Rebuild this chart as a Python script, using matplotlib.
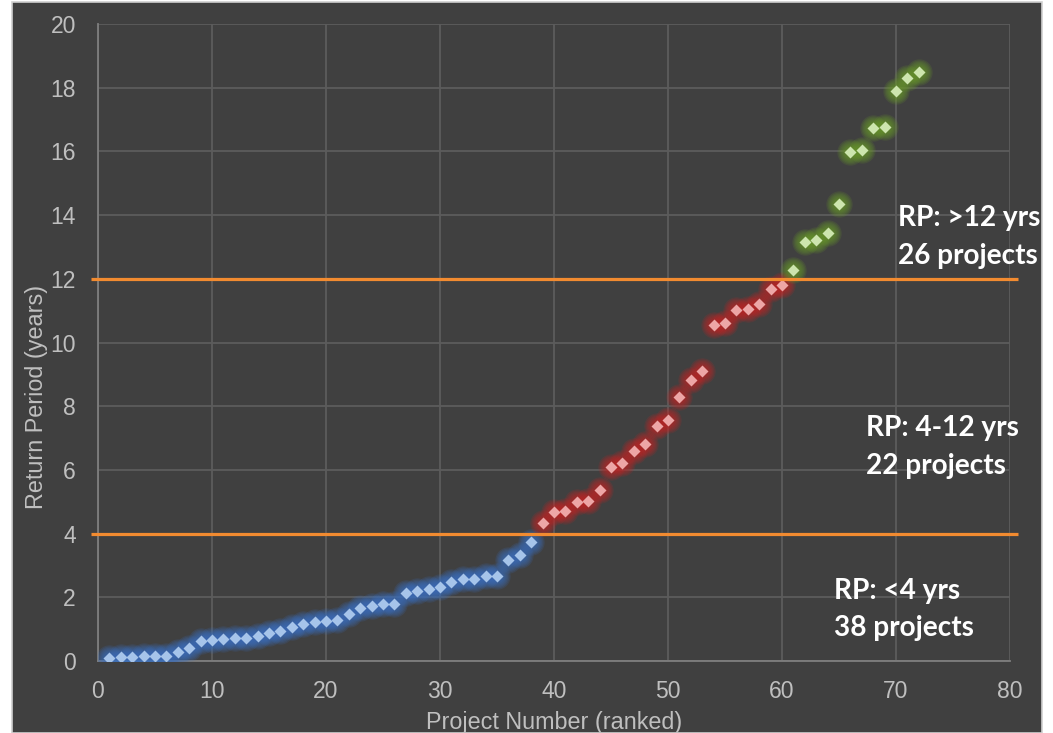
import numpy as np
import matplotlib.pyplot as plt
from matplotlib.patches import Rectangle

# ranked return periods (years), split into the three bands
rp_low = [0.08, 0.12, 0.13, 0.15, 0.17, 0.17, 0.27, 0.42, 0.62, 0.67,
          0.70, 0.71, 0.71, 0.80, 0.88, 0.93, 1.08, 1.16, 1.21, 1.27,
          1.28, 1.48, 1.67, 1.73, 1.79, 1.78, 2.13, 2.21, 2.27, 2.31,
          2.48, 2.58, 2.58, 2.66, 2.68, 3.17, 3.34, 3.74]
rp_mid = [4.33, 4.69, 4.72, 4.98, 5.01, 5.38, 6.08, 6.23, 6.59, 6.80,
          7.39, 7.57, 8.30, 8.81, 9.10, 10.56, 10.60, 11.03, 11.05, 11.21,
          11.69, 11.82]
rp_high = [12.28, 13.17, 13.23, 13.45, 14.34, 15.99, 16.05, 16.72, 16.76,
           17.91, 18.31, 18.50]

thresholds = [4, 12]
band_labels = [('RP: <4 yrs', '38 projects'),
               ('RP: 4-12 yrs', '22 projects'),
               ('RP: >12 yrs', '26 projects')]
label_pos = [(64.6, 1.95), (67.35, 7.05), (70.15, 13.65)]

x_low = np.arange(1, len(rp_low) + 1)
x_mid = np.arange(len(rp_low) + 1, len(rp_low) + len(rp_mid) + 1)
x_high = np.arange(x_mid[-1] + 1, x_mid[-1] + len(rp_high) + 1)

bg = '#404040'
txt = '#bfbfbf'

fig = plt.figure(figsize=(10.53, 7.33), dpi=100, facecolor='white')
# dark chart panel with thin light border
fig.patches.append(Rectangle((12 / 1053, 0), 1030 / 1053, 731 / 733,
                             transform=fig.transFigure, facecolor=bg,
                             edgecolor='#d0d0d0', linewidth=1.2, zorder=-10))

ax = fig.add_axes([98 / 1053, 72 / 733, 912 / 1053, 637 / 733])
ax.set_facecolor(bg)
ax.set_xlim(0, 80)
ax.set_ylim(0, 20)
ax.set_xticks(range(0, 81, 10))
ax.set_yticks(range(0, 21, 2))
ax.grid(True, color='#5c5c5c', linewidth=1.3)
ax.set_axisbelow(True)
for s in ['top', 'right']:
    ax.spines[s].set_visible(False)
for s in ['left', 'bottom']:
    ax.spines[s].set_color('#7f7f7f')
    ax.spines[s].set_linewidth(1.3)
ax.tick_params(length=0, colors=txt, labelsize=16.5)
ax.tick_params(axis='y', pad=16)
ax.tick_params(axis='x', pad=14)
for lab in ax.get_xticklabels() + ax.get_yticklabels():
    lab.set_fontfamily('Liberation Sans')

ax.set_xlabel('Project Number (ranked)', color=txt, fontsize=16.8,
              family='Liberation Sans')
ax.set_ylabel('Return Period (years)', color=txt, fontsize=16.8,
              family='Liberation Sans')
ax.xaxis.set_label_coords(0.5, -0.079)
ax.yaxis.set_label_coords(-0.055, 0.415)


def glow_points(x, y, fill, glow):
    # soft halo: stacked translucent discs, then the diamond on top
    for ms in np.linspace(19, 8, 7):
        ax.plot(x, y, 'o', ms=ms, color=glow, alpha=0.16, mec='none',
                zorder=3)
    ax.plot(x, y, 'D', ms=5.7, color=fill, mec='none', zorder=4)


glow_points(x_low, rp_low, '#a6c4ea', '#3a6fc0')
glow_points(x_mid, rp_mid, '#eda6a6', '#c02626')
glow_points(x_high, rp_high, '#cde5ae', '#6a9a2a')

for t in thresholds:
    ax.plot([-0.6, 80.7], [t, t], color='#f28b30', linewidth=2.3,
            clip_on=False, zorder=5, solid_capstyle='butt')

for (l1, l2), (lx, ly) in zip(band_labels, label_pos):
    ax.text(lx, ly, l1, color='white', fontsize=20.2, fontweight='bold',
            family='Lato', va='baseline', ha='left', zorder=6)
    ax.text(lx, ly - 1.17, l2, color='white', fontsize=20.2,
            fontweight='bold', family='Lato', va='baseline', ha='left',
            zorder=6)

fig.savefig('out.png', dpi=100, facecolor='white')
